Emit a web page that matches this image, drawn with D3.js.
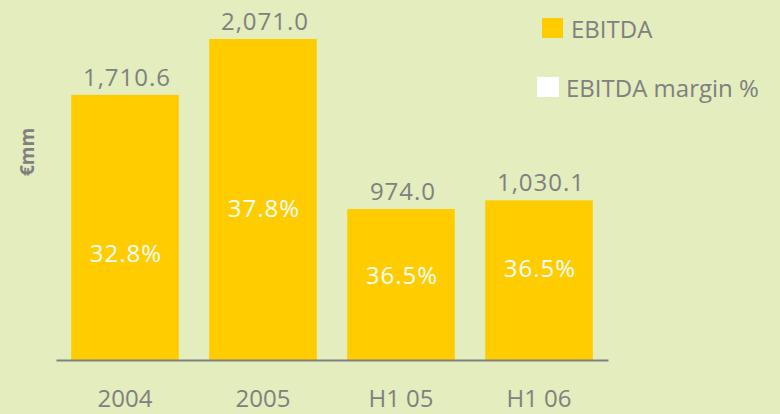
<!DOCTYPE html>
<html>
<head>
<meta charset="utf-8">
<script src="https://cdn.jsdelivr.net/npm/d3@7"></script>
<style>
  body { margin: 0; background: #e3edbe; }
  svg { display: block; }
  text { font-family: "Open Sans", sans-serif; }
</style>
</head>
<body>
<script>
// chart data
var categories = ["2004", "2005", "H1 05", "H1 06"];
var ebitda = [1710.6, 2071.0, 974.0, 1030.1];
var margins = [32.8, 37.8, 36.5, 36.5];
var legendLabels = ["EBITDA", "EBITDA margin %"];

var width = 780, height = 414;
var baseY = 360;

// small vertical nudges (px) for the margin labels, as placed in the original
var pctNudge = [26, 8, -10, -12];

var svg = d3.select("body").append("svg")
    .attr("width", width)
    .attr("height", height);

svg.append("rect")
    .attr("width", width)
    .attr("height", height)
    .attr("fill", "#e3edbe");

var xScale = d3.scaleBand()
    .domain(categories)
    .range([56, 608])
    .paddingInner(0.22)
    .paddingOuter(0.11);

var yScale = d3.scaleLinear()
    .domain([0, 2071])
    .range([baseY, 39]);

// bars
svg.selectAll("rect.bar")
    .data(ebitda)
    .enter()
    .append("rect")
    .attr("class", "bar")
    .attr("x", function(d, i) { return xScale(categories[i]); })
    .attr("y", function(d) { return yScale(d); })
    .attr("width", xScale.bandwidth())
    .attr("height", function(d) { return baseY - yScale(d); })
    .attr("fill", "#ffcc00");

// value labels above bars
svg.selectAll("text.val")
    .data(ebitda)
    .enter()
    .append("text")
    .attr("class", "val")
    .attr("x", function(d, i) { return xScale(categories[i]) + xScale.bandwidth() / 2 + 2; })
    .attr("y", function(d) { return yScale(d) - 9; })
    .attr("text-anchor", "middle")
    .attr("font-size", "24px")
    .attr("letter-spacing", "1px")
    .attr("fill", "#808080")
    .text(function(d) { return d3.format(",.1f")(d); });

// margin % labels inside bars
svg.selectAll("text.pct")
    .data(margins)
    .enter()
    .append("text")
    .attr("class", "pct")
    .attr("x", function(d, i) { return xScale(categories[i]) + xScale.bandwidth() / 2 + 1; })
    .attr("y", function(d, i) {
        var mid = (yScale(ebitda[i]) + baseY) / 2;
        return mid + pctNudge[i] + 9;
    })
    .attr("text-anchor", "middle")
    .attr("font-size", "24px")
    .attr("letter-spacing", "1px")
    .attr("fill", "#ffffff")
    .text(function(d) { return d.toFixed(1) + "%"; });

// x axis
var xAxis = d3.axisBottom(xScale).tickSize(0).tickSizeOuter(0);
var gx = svg.append("g")
    .attr("transform", "translate(0," + baseY + ")")
    .call(xAxis);
gx.select(".domain")
    .attr("stroke", "#808080")
    .attr("stroke-width", 2);
gx.selectAll("text")
    .attr("y", 47)
    .attr("dy", 0)
    .attr("fill", "#808080")
    .attr("font-size", "24px")
    .attr("font-family", "Open Sans, sans-serif");

// y axis title
svg.append("text")
    .attr("transform", "translate(34,152) rotate(-90)")
    .attr("text-anchor", "middle")
    .attr("font-size", "19px")
    .attr("font-weight", "bold")
    .attr("fill", "#808080")
    .text("€mm");

// legend
var legendColors = ["#ffcc00", "#ffffff"];
var legendPos = [[542, 18, 571, 38], [537, 77, 566, 97]];
var legend = svg.selectAll("g.legend")
    .data(legendLabels)
    .enter()
    .append("g")
    .attr("class", "legend");

legend.append("rect")
    .attr("x", function(d, i) { return legendPos[i][0]; })
    .attr("y", function(d, i) { return legendPos[i][1]; })
    .attr("width", function(d, i) { return i === 0 ? 21 : 22; })
    .attr("height", 20)
    .attr("fill", function(d, i) { return legendColors[i]; });

legend.append("text")
    .attr("x", function(d, i) { return legendPos[i][2]; })
    .attr("y", function(d, i) { return legendPos[i][3]; })
    .attr("font-size", "24px")
    .attr("fill", "#808080")
    .text(function(d) { return d; });
</script>
</body>
</html>
